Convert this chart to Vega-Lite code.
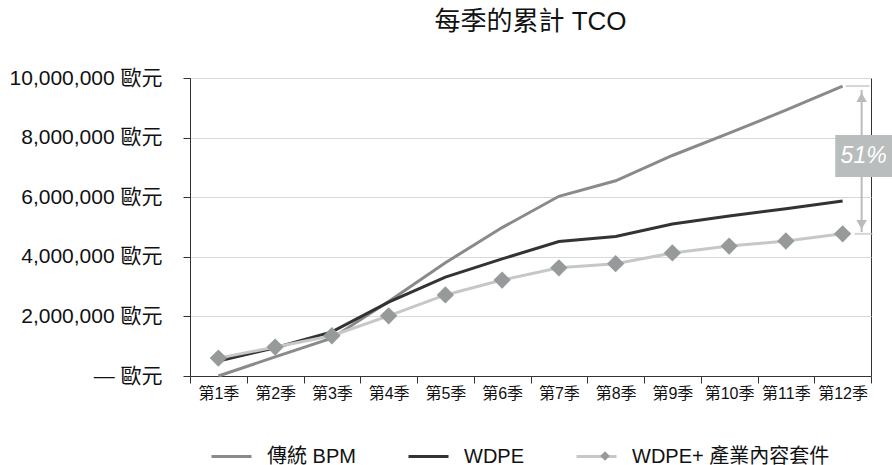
{
  "$schema": "https://vega.github.io/schema/vega-lite/v6.json",
  "width": 681,
  "height": 298,
  "autosize": "none",
  "padding": {"left": 190, "top": 78, "right": 21, "bottom": 89},
  "background": "white",
  "title": {
    "text": "每季的累計 TCO",
    "fontSize": 26,
    "fontWeight": "normal",
    "font": "Liberation Sans, Noto Sans CJK TC",
    "color": "#111111",
    "offset": 32,
    "anchor": "middle"
  },
  "config": {
    "font": "Liberation Sans, Noto Sans CJK TC",
    "view": {"stroke": "#333333", "strokeWidth": 1}
  },
  "datasets": {
    "tco": [
      {"quarter": "第1季", "series": "傳統 BPM", "value": 0},
      {"quarter": "第2季", "series": "傳統 BPM", "value": 640000},
      {"quarter": "第3季", "series": "傳統 BPM", "value": 1270000},
      {"quarter": "第4季", "series": "傳統 BPM", "value": 2500000},
      {"quarter": "第5季", "series": "傳統 BPM", "value": 3800000},
      {"quarter": "第6季", "series": "傳統 BPM", "value": 4980000},
      {"quarter": "第7季", "series": "傳統 BPM", "value": 6030000},
      {"quarter": "第8季", "series": "傳統 BPM", "value": 6550000},
      {"quarter": "第9季", "series": "傳統 BPM", "value": 7400000},
      {"quarter": "第10季", "series": "傳統 BPM", "value": 8150000},
      {"quarter": "第11季", "series": "傳統 BPM", "value": 8920000},
      {"quarter": "第12季", "series": "傳統 BPM", "value": 9730000},
      {"quarter": "第1季", "series": "WDPE", "value": 500000},
      {"quarter": "第2季", "series": "WDPE", "value": 950000},
      {"quarter": "第3季", "series": "WDPE", "value": 1480000},
      {"quarter": "第4季", "series": "WDPE", "value": 2480000},
      {"quarter": "第5季", "series": "WDPE", "value": 3320000},
      {"quarter": "第6季", "series": "WDPE", "value": 3930000},
      {"quarter": "第7季", "series": "WDPE", "value": 4510000},
      {"quarter": "第8季", "series": "WDPE", "value": 4680000},
      {"quarter": "第9季", "series": "WDPE", "value": 5100000},
      {"quarter": "第10季", "series": "WDPE", "value": 5370000},
      {"quarter": "第11季", "series": "WDPE", "value": 5610000},
      {"quarter": "第12季", "series": "WDPE", "value": 5870000},
      {"quarter": "第1季", "series": "WDPE+ 產業內容套件", "value": 600000},
      {"quarter": "第2季", "series": "WDPE+ 產業內容套件", "value": 970000},
      {"quarter": "第3季", "series": "WDPE+ 產業內容套件", "value": 1350000},
      {"quarter": "第4季", "series": "WDPE+ 產業內容套件", "value": 2020000},
      {"quarter": "第5季", "series": "WDPE+ 產業內容套件", "value": 2720000},
      {"quarter": "第6季", "series": "WDPE+ 產業內容套件", "value": 3220000},
      {"quarter": "第7季", "series": "WDPE+ 產業內容套件", "value": 3630000},
      {"quarter": "第8季", "series": "WDPE+ 產業內容套件", "value": 3770000},
      {"quarter": "第9季", "series": "WDPE+ 產業內容套件", "value": 4130000},
      {"quarter": "第10季", "series": "WDPE+ 產業內容套件", "value": 4360000},
      {"quarter": "第11季", "series": "WDPE+ 產業內容套件", "value": 4530000},
      {"quarter": "第12季", "series": "WDPE+ 產業內容套件", "value": 4770000}
    ],
    "gap": [
      {"quarter": "第12季", "high": 9730000, "low": 4770000, "arrowTop": 9600000, "arrowBottom": 4830000, "headTop": 9350000, "headBottom": 5080000, "boxTop": 8090000, "boxBottom": 6680000, "labelValue": 7380000, "label": "51%"}
    ]
  },
  "encoding": {
    "x": {
      "field": "quarter",
      "type": "ordinal",
      "sort": null,
      "scale": {"type": "band", "paddingInner": 0, "paddingOuter": 0},
      "axis": {
        "title": null,
        "labelAngle": 0,
        "labelFontSize": 16,
        "labelColor": "#111111",
        "labelPadding": 2,
        "tickBand": "extent",
        "tickSize": 7,
        "tickColor": "#333333",
        "domainColor": "#333333",
        "grid": false
      }
    }
  },
  "layer": [
    {
      "data": {"name": "tco"},
      "mark": {"type": "line", "strokeWidth": 3},
      "encoding": {
        "y": {
          "field": "value",
          "type": "quantitative",
          "scale": {"domain": [0, 10000000], "nice": false},
          "axis": {
            "title": null,
            "values": [0, 2000000, 4000000, 6000000, 8000000, 10000000],
            "labelExpr": "datum.value == 0 ? '— 歐元' : format(datum.value, ',') + ' 歐元'",
            "labelFontSize": 21,
            "labelColor": "#111111",
            "labelPadding": 21,
            "tickSize": 7,
            "tickColor": "#333333",
            "domainColor": "#333333",
            "gridColor": "#d9d9d9",
            "gridWidth": 1
          }
        },
        "color": {
          "field": "series",
          "type": "nominal",
          "sort": null,
          "scale": {
            "domain": ["傳統 BPM", "WDPE", "WDPE+ 產業內容套件"],
            "range": ["#8a8a8a", "#333333", "#c6c8c8"]
          },
          "legend": {
            "title": null,
            "orient": "none",
            "direction": "horizontal",
            "legendX": 20,
            "legendY": 357,
            "gridAlign": "none",
            "symbolType": "stroke",
            "symbolSize": 1600,
            "symbolStrokeWidth": 3,
            "labelFontSize": 20,
            "labelLimit": 300,
            "labelColor": "#111111",
            "labelOffset": 14,
            "columnPadding": 46
          }
        }
      }
    },
    {
      "data": {"name": "tco"},
      "transform": [{"filter": "datum.series == 'WDPE+ 產業內容套件'"}],
      "mark": {"type": "point", "shape": "diamond", "filled": true, "size": 300, "opacity": 1},
      "encoding": {
        "y": {"field": "value", "type": "quantitative"},
        "fill": {
          "field": "series",
          "type": "nominal",
          "scale": {"range": ["#979a9a"]},
          "legend": {
            "title": null,
            "orient": "none",
            "legendX": 405,
            "legendY": 368,
            "symbolType": "diamond",
            "symbolSize": 90,
            "symbolStrokeWidth": 0,
            "labelExpr": "''",
            "labelFontSize": 20
          }
        }
      }
    },
    {
      "data": {"name": "gap"},
      "mark": {"type": "rule", "color": "#b8bcbc", "strokeWidth": 2, "xOffset": 19},
      "encoding": {
        "y": {"field": "arrowTop", "type": "quantitative"},
        "y2": {"field": "arrowBottom"}
      }
    },
    {
      "data": {"name": "gap"},
      "mark": {"type": "point", "shape": "triangle-up", "filled": true, "size": 110, "color": "#b8bcbc", "opacity": 1, "xOffset": 19},
      "encoding": {
        "y": {"field": "headTop", "type": "quantitative"}
      }
    },
    {
      "data": {"name": "gap"},
      "mark": {"type": "point", "shape": "triangle-down", "filled": true, "size": 110, "color": "#b8bcbc", "opacity": 1, "xOffset": 19},
      "encoding": {
        "y": {"field": "headBottom", "type": "quantitative"}
      }
    },
    {
      "data": {"name": "gap"},
      "mark": {"type": "tick", "orient": "horizontal", "color": "#c0c4c4", "size": 24, "thickness": 2, "xOffset": 15},
      "encoding": {
        "y": {"field": "high", "type": "quantitative"}
      }
    },
    {
      "data": {"name": "gap"},
      "mark": {"type": "tick", "orient": "horizontal", "color": "#c0c4c4", "size": 18, "thickness": 2, "xOffset": 21},
      "encoding": {
        "y": {"field": "low", "type": "quantitative"}
      }
    },
    {
      "data": {"name": "gap"},
      "mark": {"type": "rect", "color": "#b9bdbd", "xOffset": 21},
      "encoding": {
        "y": {"field": "boxTop", "type": "quantitative"},
        "y2": {"field": "boxBottom"}
      }
    },
    {
      "data": {"name": "gap"},
      "mark": {"type": "text", "color": "white", "fontSize": 23, "fontStyle": "italic", "xOffset": 21, "align": "center", "baseline": "middle"},
      "encoding": {
        "y": {"field": "labelValue", "type": "quantitative"},
        "text": {"field": "label"}
      }
    }
  ]
}
